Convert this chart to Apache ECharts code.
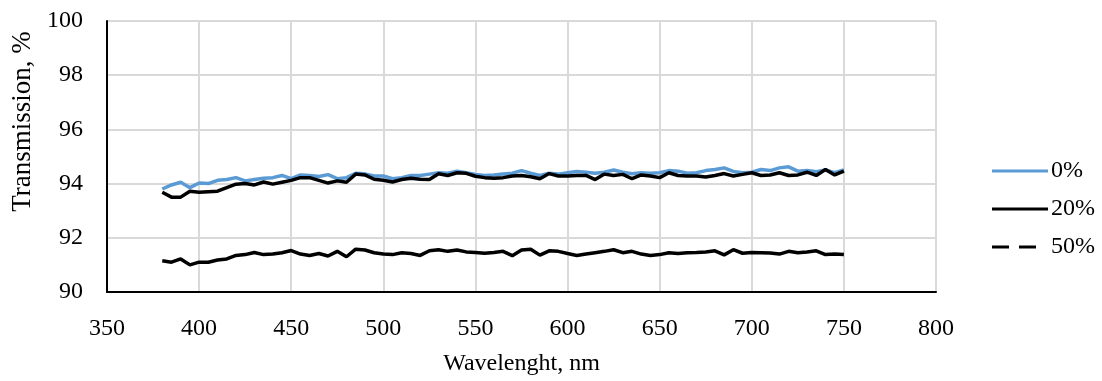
<!DOCTYPE html>
<html><head><meta charset="utf-8">
<script src="https://cdn.jsdelivr.net/npm/echarts@6/dist/echarts.min.js"></script>
<style>html,body{margin:0;padding:0;background:#fff}#c{width:1102px;height:381px}</style>
</head><body><div id="c"></div>
<script>
const wavelengths = [380,385,390,395,400,405,410,415,420,425,430,435,440,445,450,455,460,465,470,475,480,485,490,495,500,505,510,515,520,525,530,535,540,545,550,555,560,565,570,575,580,585,590,595,600,605,610,615,620,625,630,635,640,645,650,655,660,665,670,675,680,685,690,695,700,705,710,715,720,725,730,735,740,745,750];
const t0 = [93.80,93.95,94.05,93.85,94.02,94.00,94.12,94.15,94.22,94.10,94.15,94.20,94.22,94.30,94.18,94.32,94.30,94.26,94.33,94.18,94.22,94.38,94.36,94.28,94.28,94.18,94.22,94.30,94.30,94.35,94.40,94.38,94.46,94.40,94.34,94.30,94.32,94.35,94.38,94.48,94.38,94.30,94.38,94.35,94.40,94.45,94.42,94.38,94.42,94.50,94.42,94.36,94.40,94.38,94.40,94.48,94.46,94.38,94.40,94.48,94.52,94.58,94.45,94.40,94.42,94.52,94.48,94.58,94.62,94.46,94.48,94.44,94.50,94.40,94.50];
const t20 = [93.68,93.50,93.50,93.72,93.68,93.70,93.72,93.85,93.98,94.00,93.95,94.06,93.98,94.05,94.12,94.22,94.22,94.12,94.02,94.10,94.05,94.35,94.32,94.16,94.12,94.06,94.15,94.20,94.16,94.15,94.36,94.30,94.40,94.38,94.27,94.22,94.20,94.22,94.28,94.30,94.25,94.18,94.37,94.28,94.28,94.30,94.30,94.15,94.35,94.30,94.34,94.18,94.32,94.28,94.22,94.40,94.30,94.28,94.28,94.24,94.30,94.37,94.28,94.34,94.40,94.30,94.32,94.40,94.30,94.32,94.42,94.30,94.52,94.32,94.46];
const t50 = [91.15,91.10,91.22,91.00,91.10,91.10,91.18,91.22,91.35,91.38,91.46,91.38,91.40,91.45,91.53,91.40,91.35,91.42,91.33,91.50,91.30,91.58,91.55,91.45,91.40,91.38,91.45,91.42,91.35,91.52,91.56,91.50,91.55,91.48,91.46,91.43,91.46,91.50,91.34,91.55,91.58,91.36,91.52,91.50,91.42,91.35,91.40,91.45,91.50,91.56,91.45,91.50,91.40,91.35,91.38,91.45,91.42,91.45,91.46,91.48,91.52,91.37,91.56,91.43,91.46,91.45,91.44,91.40,91.50,91.45,91.48,91.52,91.38,91.40,91.38];
const seriesNames = ['0%','20%','50%'];

const pair = arr => wavelengths.map((w,i)=>[w,arr[i]]);
const font = 'Liberation Serif';
const fs = 24;
const solidIcon = 'path://M0,0H56V3H0Z';
const dashIcon = 'path://M0,0H17V3H0Z M27,0H44V3H27Z M56,0L56,3';
const chart = echarts.init(document.getElementById('c'));
chart.setOption({
  animation:false,
  grid:{left:107,right:166,top:21,bottom:88},
  legend:{
    orient:'vertical', left:987, top:154, itemWidth:56, itemHeight:3, itemGap:14,
    textStyle:{fontFamily:font,fontSize:fs,color:'#000',padding:[0,0,0,-2]},
    data:[
      {name:'0%', icon:solidIcon, itemStyle:{color:'#5b9bd5'}},
      {name:'20%', icon:solidIcon, itemStyle:{color:'#000'}},
      {name:'50%', icon:dashIcon, itemStyle:{color:'#000'}}
    ]
  },
  xAxis:{type:'value',min:350,max:800,interval:50,
    name:'Wavelenght, nm',nameLocation:'middle',nameGap:60,
    nameTextStyle:{fontFamily:font,fontSize:fs,color:'#000'},
    axisLine:{show:true,lineStyle:{color:'#000',width:2}},
    axisTick:{show:false},
    axisLabel:{fontFamily:font,fontSize:fs,color:'#000',margin:25},
    splitLine:{show:true,lineStyle:{color:'#d9d9d9',width:2}}},
  yAxis:{type:'value',min:90,max:100,interval:2,
    name:'Transmission, %',nameLocation:'middle',nameGap:69,
    nameTextStyle:{fontFamily:font,fontSize:27,color:'#000',padding:[0,0,0,70]},
    axisLine:{show:true,lineStyle:{color:'#000',width:2}},
    axisTick:{show:false},
    axisLabel:{fontFamily:font,fontSize:fs,color:'#000',margin:24},
    splitLine:{show:true,lineStyle:{color:'#d9d9d9',width:2}}},
  series:[
    {name:seriesNames[0],type:'line',data:pair(t0),showSymbol:false,symbol:'none',lineStyle:{color:'#5b9bd5',width:3.5},itemStyle:{color:'#5b9bd5'}},
    {name:seriesNames[1],type:'line',data:pair(t20),showSymbol:false,symbol:'none',lineStyle:{color:'#000',width:3.5},itemStyle:{color:'#000'}},
    {name:seriesNames[2],type:'line',data:pair(t50),showSymbol:false,symbol:'none',lineStyle:{color:'#000',width:3.5},itemStyle:{color:'#000'}}
  ]
});
</script></body></html>
